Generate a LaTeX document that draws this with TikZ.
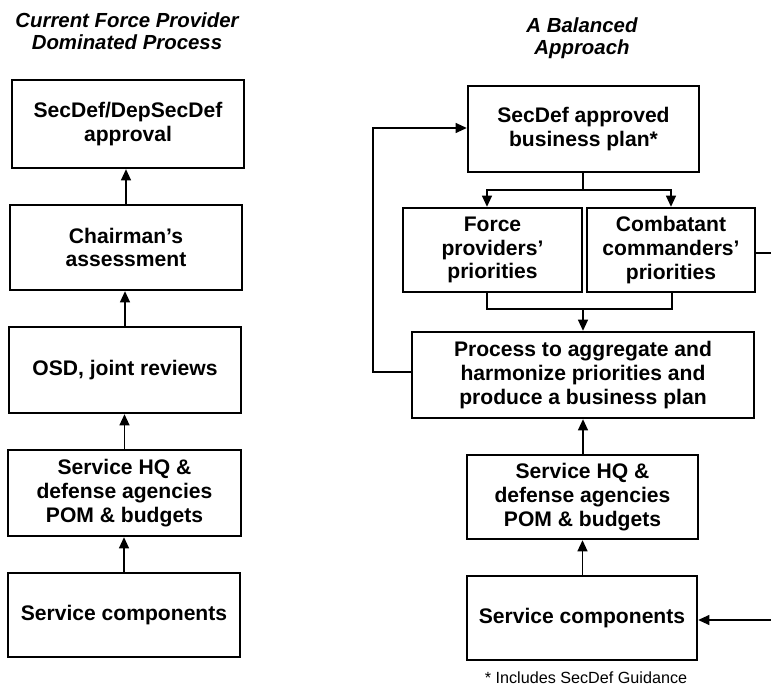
\documentclass[tikz,border=0pt]{standalone}
\usepackage{fontspec}
\setmainfont{Liberation Sans}
\usetikzlibrary{arrows.meta}

\begin{document}
\begin{tikzpicture}[x=0.025cm, y=-0.025cm,
		blk/.style={draw, line width=1.6pt, align=center, inner sep=0pt, font=\fontsize{15}{17}\selectfont\bfseries},
		ttl/.style={align=center, font=\fontsize{14.5}{15.6}\selectfont\bfseries\itshape},
		con/.style={line width=1.3pt},
		arr/.style={con, -{Triangle[length=8pt,width=7pt]}}]
			%%%%% START %%%%%
			
			\useasboundingbox (0, 0) rectangle (771, 694);
			
			% left column
			\node[ttl] (ttlL) at (127, 31) {Current Force Provider\\Dominated Process};
			
			\node[blk, minimum width=5.8cm, minimum height=2.2cm] (apprL) at (128, 124) {SecDef/DepSecDef\\approval};
			\node[blk, minimum width=5.8cm, minimum height=2.125cm] (chrL) at (126, 247.5) {Chairman’s\\assessment};
			\node[blk, minimum width=5.8cm, minimum height=2.15cm] (osdL) at (125, 370) {OSD, joint reviews};
			\node[blk, minimum width=5.825cm, minimum height=2.15cm] (hqL) at (124.5, 493) {Service HQ \&\\defense agencies\\POM \& budgets};
			\node[blk, minimum width=5.8cm, minimum height=2.1cm] (compL) at (124, 615) {Service components};
			
			\draw[arr] (chrL.north) -- (chrL.north |- apprL.south);
			\draw[arr] (osdL.north) -- (osdL.north |- chrL.south);
			\draw[arr] (hqL.north) -- (hqL.north |- osdL.south);
			\draw[arr] (compL.north) -- (compL.north |- hqL.south);
			
			% right column
			\node[ttl] (ttlR) at (582, 38) {A Balanced\\Approach};
			
			\node[blk, minimum width=5.775cm, minimum height=2.15cm] (plan) at (583.5, 129) {SecDef approved\\business plan*};
			\node[blk, minimum width=4.475cm, minimum height=2.1cm] (fprov) at (492.5, 250) {Force\\providers’\\priorities};
			\node[blk, minimum width=4.2cm, minimum height=2.1cm] (ccmd) at (671, 250) {Combatant\\commanders’\\priorities};
			\node[blk, minimum width=8.55cm, minimum height=2.15cm] (proc) at (583, 375) {Process to aggregate and\\harmonize priorities and\\produce a business plan};
			\node[blk, minimum width=5.775cm, minimum height=2.1cm] (hqR) at (582.5, 497) {Service HQ \&\\defense agencies\\POM \& budgets};
			\node[blk, minimum width=5.75cm, minimum height=2.1cm] (compR) at (582, 618) {Service components};
			
			\node[font=\fontsize{11.5}{13}\selectfont] (note) at (586, 678) {* Includes SecDef Guidance};
			
			\coordinate (split) at (583, 190);
			\coordinate (merge) at (583, 309);
			\coordinate (loopL) at (373, 372);
			\coordinate (edgeR) at (790, 253);
			
			\draw[con] (plan.south -| split) -- (split);
			\draw[arr] (split) -- (487, 190) -- (487, 190 |- fprov.north);
			\draw[arr] (split) -- (671, 190) -- (671, 190 |- ccmd.north);
			
			\draw[con] (487, 292) -- (487, 309) -- (672, 309) -- (672, 292);
			\draw[arr] (merge) -- (merge |- proc.north);
			
			\draw[arr] (proc.west |- loopL) -- (loopL) -- (373, 128) -- (plan.west |- 0, 128);
			\draw[arr] (hqR.north -| proc.south) -- (proc.south);
			\draw[arr] (compR.north -| hqR.south) -- (hqR.south);
			
			\draw[arr] (ccmd.east |- edgeR) -- (edgeR) -- (790, 620) -- (compR.east |- 0, 620);
			
			%%%%% END %%%%%
		\end{tikzpicture}
\end{document}
